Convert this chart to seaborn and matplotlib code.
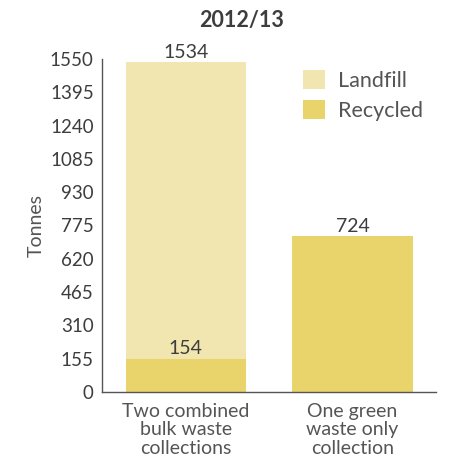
import matplotlib
matplotlib.use("Agg")
import matplotlib.pyplot as plt
import seaborn as sns
import pandas as pd

# Data
categories = ["Two combined\nbulk waste\ncollections", "One green\nwaste only\ncollection"]
recycled = [154, 724]
landfill = [1380, 0]
totals = [r + l for r, l in zip(recycled, landfill)]
y_ticks = [0, 155, 310, 465, 620, 775, 930, 1085, 1240, 1395, 1550]

landfill_color = "#F2E6B0"
recycled_color = "#E8D46A"
text_color = "#3d3d3d"

sns.set_style("white")
plt.rcParams["font.family"] = ["Lato", "DejaVu Sans"]

df = pd.DataFrame({"category": categories, "total": totals, "recycled": recycled})

fig = plt.figure(figsize=(4.58, 4.61), dpi=100)
ax = fig.add_axes([0.223, 0.150, 0.729, 0.722])

# landfill drawn as full stack height, recycled over it
sns.barplot(data=df, x="category", y="total", color=landfill_color, width=0.72,
            saturation=1, linewidth=0, ax=ax, label="Landfill")
sns.barplot(data=df, x="category", y="recycled", color=recycled_color, width=0.72,
            saturation=1, linewidth=0, ax=ax, label="Recycled")

# value labels
for i, (t, l, r) in enumerate(zip(totals, landfill, recycled)):
    if l > 0:
        ax.text(i, t + 6, str(t), ha="center", va="bottom", fontsize=14, color=text_color)
    ax.text(i, r + 6, str(r), ha="center", va="bottom", fontsize=14, color=text_color)

ax.set_xlim(-0.5, 1.5)
ax.set_ylim(0, 1550)
ax.set_yticks(y_ticks)
ax.set_yticklabels([str(v) for v in y_ticks], fontsize=13.5, color=text_color)
ax.set_xticks([0, 1])
ax.set_xticklabels(categories, fontsize=14, color="#555555", linespacing=1.1)
ax.set_xticks([-0.5, 0.5, 1.5], minor=True)
ax.tick_params(axis="x", which="major", length=0, pad=8)
ax.tick_params(axis="x", which="minor", direction="in", length=8, color="#555555", width=1)
ax.tick_params(axis="y", direction="in", length=8, color="#555555", width=1, pad=6)
ax.set_xlabel("")
ax.set_ylabel("Tonnes", fontsize=14, color="#555555", labelpad=4)

for s in ["top", "right"]:
    ax.spines[s].set_visible(False)
for s in ["left", "bottom"]:
    ax.spines[s].set_color("#555555")
    ax.spines[s].set_linewidth(1)

leg = ax.legend(loc="upper left", bbox_to_anchor=(0.545, 1.025), frameon=False,
                fontsize=15.5, handlelength=1.0, handleheight=1.0, handletextpad=0.6,
                labelspacing=0.4)
for txt in leg.get_texts():
    txt.set_color("#555555")

fig.text(0.528, 0.955, "2012/13", ha="center", va="center", fontsize=15.5,
         fontweight="bold", color=text_color)

fig.savefig("out.png", dpi=100)
